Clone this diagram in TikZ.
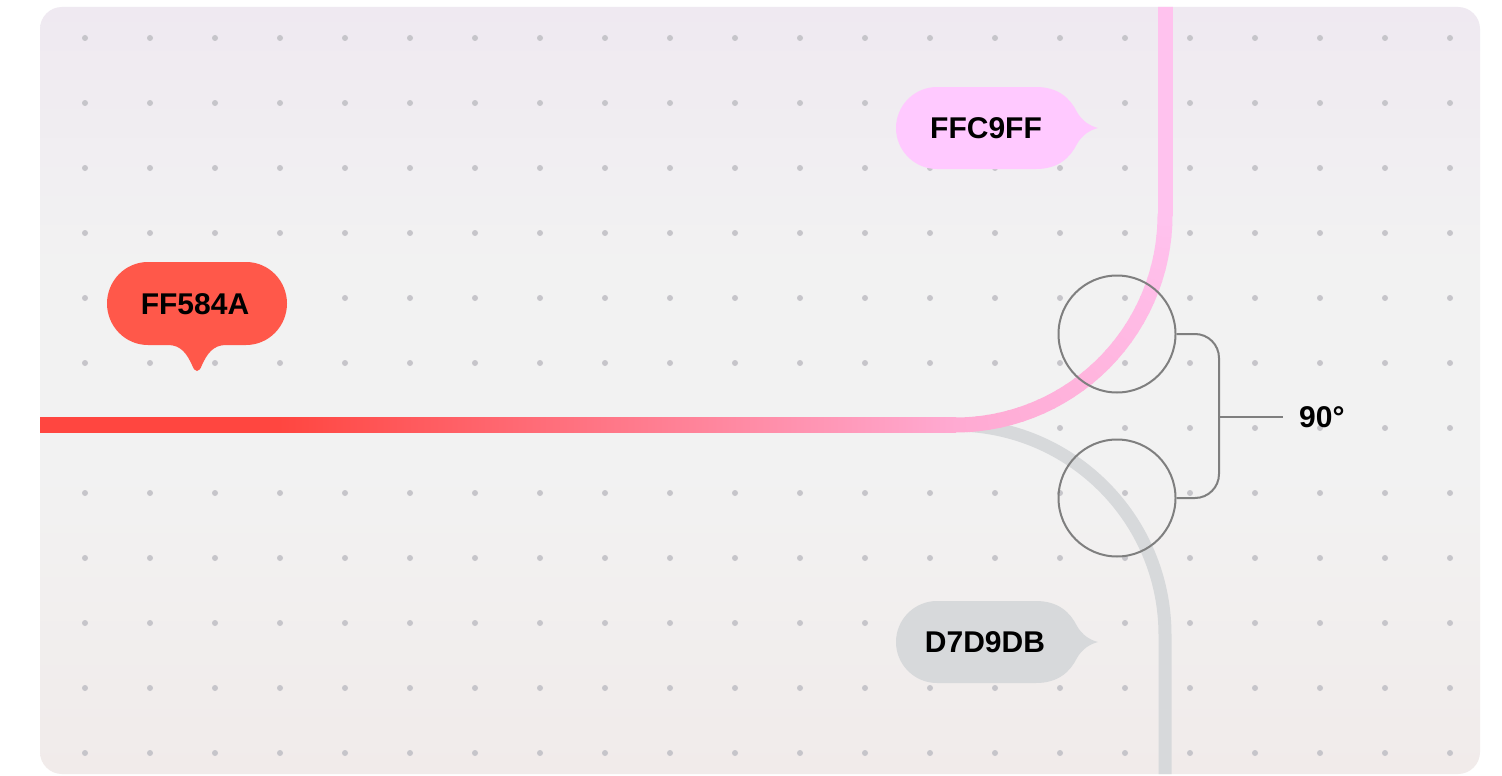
\documentclass[tikz,border=0pt]{standalone}
\usepackage{fontspec}
\setmainfont{Liberation Sans}
\usetikzlibrary{calc}
\definecolor{panelTop}{HTML}{EFE9F1}
\definecolor{panelMid}{HTML}{F2F2F2}
\definecolor{panelBot}{HTML}{F1EBEA}
\definecolor{dotc}{HTML}{C6C5CA}
\definecolor{lred}{HTML}{FF4640}
\definecolor{lpinkA}{HTML}{FFAAD2}
\definecolor{lpinkB}{HTML}{FFC2EE}
\definecolor{grayl}{HTML}{D7D9DB}
\definecolor{bubPink}{HTML}{FFC9FF}
\definecolor{bubRed}{HTML}{FF584A}
\definecolor{bubGray}{HTML}{D7D9DB}
\definecolor{markc}{HTML}{7F7F7F}
\pgfdeclarehorizontalshading{redpink}{100bp}{color(0bp)=(lred); color(25bp)=(lred); color(38bp)=(lred); color(75bp)=(lpinkA); color(100bp)=(lpinkA)}
\pgfdeclareverticalshading{panelsh}{100bp}{color(0bp)=(panelBot); color(25bp)=(panelBot); color(45bp)=(panelMid); color(58bp)=(panelMid); color(75bp)=(panelTop); color(100bp)=(panelTop)}
\tikzset{
  txtlabel/.style={font=\fontsize{30}{35}\selectfont\bfseries, text=black, inner sep=0pt},
  anglemark/.style={draw=markc, line width=2pt},
  ring/.style={anglemark, circle, minimum size=117pt, inner sep=0pt},
}
\begin{document}
\begin{tikzpicture}[x=1pt,y=-1pt]
\useasboundingbox (0,0) rectangle (1502,776);
\fill[white] (0,0) rectangle (1502,776);
% panel
\shade[shading=panelsh, rounded corners=22pt] (40,7) rectangle (1480,774);
\begin{scope}
\clip[rounded corners=22pt] (40,7) rectangle (1480,774);
% dots
\foreach \i in {0,...,21}{
  \foreach \j in {0,...,11}{
    \fill[dotc] (85+65*\i, 38+65*\j) circle (3pt);
  }
}
% gray line
\coordinate (gs) at (950,425);
\draw[grayl, line width=13pt] (gs) -- (955,425) arc[start angle=-90, delta angle=90, radius=210] -- (1165,790);
% red -> pink line
\shade[shading=redpink] (40,417.5) rectangle (956,432.5);
\coordinate (pc) at (955,215);
\foreach \k in {0,...,29}{
  \pgfmathtruncatemacro\pct{100*\k/29}
  \draw[color=lpinkB!\pct!lpinkA, line width=15pt]
    ($(pc)+(90-3*\k:210)$) arc[start angle=90-3*\k, delta angle=-3.4, radius=210];
}
\draw[lpinkB, line width=15pt] (1165,216) -- (1165,-10);
\end{scope}
% angle marks
\node[ring] (c1) at (1117,334) {};
\node[ring] (c2) at (1117,498) {};
\draw[anglemark, rounded corners=24pt] (c1.east) -- (c1.east -| 1219,0) -- (c2.east -| 1219,0) -- (c2.east);
\coordinate (tick) at (1219,417);
\node[txtlabel, anchor=west] (ang) at (1299,417) {90°};
\draw[anglemark] (tick) -- (1283,417);
% pink bubble (tail right)
\fill[bubPink, shift={(896,128)}] (41,-41) -- (140,-41) .. controls (162,-41) and (174,-30) .. (181,-16) .. controls (186,-7) and (194,-2) .. (202,0) .. controls (194,2) and (186,7) .. (181,16) .. controls (174,30) and (162,41) .. (140,41) -- (41,41) .. controls (18.4,41) and (0,22.6) .. (0,0) .. controls (0,-22.6) and (18.4,-41) .. (41,-41) -- cycle;
\node[txtlabel] (tpink) at (986,128) {FFC9FF};
% gray bubble (tail right)
\fill[bubGray, shift={(896,642)}] (41,-41) -- (140,-41) .. controls (162,-41) and (174,-30) .. (181,-16) .. controls (186,-7) and (194,-2) .. (202,0) .. controls (194,2) and (186,7) .. (181,16) .. controls (174,30) and (162,41) .. (140,41) -- (41,41) .. controls (18.4,41) and (0,22.6) .. (0,0) .. controls (0,-22.6) and (18.4,-41) .. (41,-41) -- cycle;
\node[txtlabel] (tgray) at (985,642) {D7D9DB};
% red bubble (tail down)
\fill[bubRed] (148,262) -- (246,262) .. controls (269,262) and (287,281) .. (287,303.5) .. controls (287,326) and (269,345) .. (246,345) -- (226,345) .. controls (213,345) and (207,354) .. (202,365) .. controls (199,373) and (195,373) .. (192,365) .. controls (187,354) and (181,345) .. (168,345) -- (148,345) .. controls (125,345) and (107,326) .. (107,303.5) .. controls (107,281) and (125,262) .. (148,262) -- cycle;
\node[txtlabel] (tred) at (195,304) {FF584A};
\end{tikzpicture}
\end{document}
